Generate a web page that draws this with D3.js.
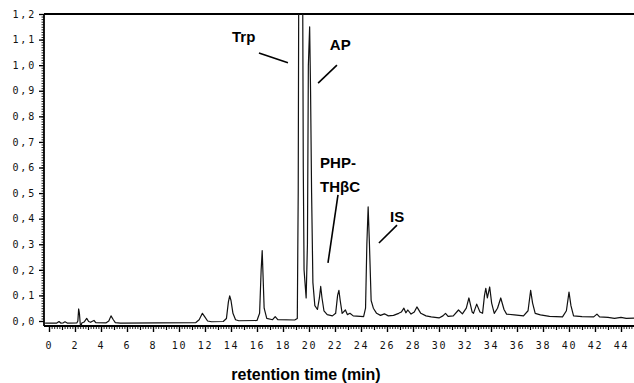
<!DOCTYPE html>
<html>
<head>
<meta charset="utf-8">
<script src="https://cdnjs.cloudflare.com/ajax/libs/d3/7.8.5/d3.min.js"></script>
<style>
body { margin: 0; background: #fff; }
.tick text { font-family: "DejaVu Sans Mono", monospace; font-size: 10px; letter-spacing: 1.8px; fill: #111; }
.lbl { font-family: "Liberation Sans", Arial, sans-serif; font-weight: bold; font-size: 15px; fill: #000; }
</style>
</head>
<body>
<svg width="634" height="383"></svg>
<script>
// absorbance ticks (AU) and retention time ticks (min)
var yTicks = [0, 0.1, 0.2, 0.3, 0.4, 0.5, 0.6, 0.7, 0.8, 0.9, 1.0, 1.1, 1.2];
var xTicks = [0, 2, 4, 6, 8, 10, 12, 14, 16, 18, 20, 22, 24, 26, 28, 30, 32, 34, 36, 38, 40, 42, 44];

// chromatogram trace: [time (min), absorbance]
var trace = [
  [-0.3, -0.008], [0.6, -0.008], [0.77, -0.002], [0.9, -0.008], [1.1, -0.007], [1.23, -0.003],
  [1.4, -0.008], [2.15, -0.007], [2.22, 0.0], [2.28, 0.047], [2.34, 0.03], [2.4, -0.01],
  [2.45, -0.023], [2.52, -0.008], [2.7, -0.004], [2.9, 0.01], [3.05, -0.002], [3.2, -0.005],
  [3.3, -0.002], [3.46, 0.002], [3.6, -0.006], [4.4, -0.007], [4.6, 0.0], [4.77, 0.02],
  [4.95, 0.005], [5.1, -0.006], [5.5, -0.008], [11.3, -0.006], [11.55, 0.005], [11.8, 0.03],
  [12.0, 0.015], [12.2, 0.0], [12.5, -0.003], [13.4, -0.002], [13.65, 0.01], [13.8, 0.075],
  [13.9, 0.098], [14.0, 0.08], [14.15, 0.03], [14.35, 0.005], [14.6, 0.001], [16.0, 0.002],
  [16.2, 0.03], [16.32, 0.2], [16.4, 0.275], [16.47, 0.17], [16.55, 0.05], [16.75, 0.01],
  [17.2, 0.005], [17.4, 0.017], [17.6, 0.005], [18.9, 0.004], [19.1, 0.01], [19.17, 0.5],
  [19.22, 1.5], [19.5, 1.5], [19.56, 0.6], [19.62, 0.2], [19.78, 0.09], [19.88, 0.3],
  [19.95, 1.0], [20.05, 1.15], [20.12, 0.9], [20.2, 0.5], [20.3, 0.15], [20.45, 0.06],
  [20.65, 0.045], [20.8, 0.09], [20.9, 0.135], [21.0, 0.09], [21.15, 0.04], [21.4, 0.025],
  [21.8, 0.02], [22.05, 0.03], [22.2, 0.1], [22.3, 0.12], [22.4, 0.08], [22.55, 0.03],
  [22.8, 0.043], [22.95, 0.025], [23.15, 0.03], [23.4, 0.02], [24.2, 0.017], [24.35, 0.05],
  [24.45, 0.3], [24.55, 0.446], [24.65, 0.3], [24.78, 0.08], [24.95, 0.05], [25.2, 0.03],
  [25.5, 0.022], [25.8, 0.028], [26.1, 0.02], [26.5, 0.022], [26.9, 0.03], [27.1, 0.035],
  [27.3, 0.05], [27.45, 0.032], [27.6, 0.043], [27.85, 0.027], [28.1, 0.035], [28.3, 0.055],
  [28.6, 0.03], [29.0, 0.02], [29.4, 0.016], [30.0, 0.012], [30.3, 0.02], [30.5, 0.03],
  [30.7, 0.018], [31.1, 0.02], [31.5, 0.043], [31.8, 0.028], [32.1, 0.05], [32.3, 0.09],
  [32.55, 0.035], [32.65, 0.03], [32.9, 0.066], [33.15, 0.035], [33.35, 0.03], [33.5, 0.1],
  [33.6, 0.128], [33.72, 0.09], [33.9, 0.133], [34.05, 0.07], [34.25, 0.03], [34.5, 0.05],
  [34.75, 0.09], [35.0, 0.045], [35.2, 0.027], [35.8, 0.024], [36.5, 0.02], [36.85, 0.04],
  [37.05, 0.12], [37.2, 0.07], [37.4, 0.03], [37.8, 0.024], [38.5, 0.018], [39.5, 0.016],
  [39.8, 0.04], [40.0, 0.113], [40.15, 0.06], [40.35, 0.02], [41.0, 0.017], [41.9, 0.016],
  [42.15, 0.027], [42.35, 0.016], [43.0, 0.014], [43.5, 0.01], [44.0, 0.014], [44.4, 0.01],
  [45.2, 0.012]
];

// peak annotations: text anchor and leader line, in time / absorbance units
var peakNames = [["Trp"], ["AP"], ["PHP-", "THβC"], ["IS"]];
var textAt = [[14.08, 1.09], [21.6, 1.059], [20.85, 0.598], [26.23, 0.387]];
var leaders = [
  [[16.15, 1.048], [18.38, 1.009]],
  [[22.15, 1.0], [20.7, 0.93]],
  [[22.23, 0.493], [21.46, 0.227]],
  [[26.77, 0.375], [25.38, 0.305]]
];

var svg = d3.select("svg"),
    width = +svg.attr("width"),
    height = +svg.attr("height");

var x = d3.scaleLinear().domain([0, 44]).range([49, 621]);
var y = d3.scaleLinear().domain([0, 1.2]).range([321, 14]);

var plotLeft = 44, plotTop = 14, plotBottom = 326;

svg.append("clipPath").attr("id", "plot")
  .append("rect").attr("x", plotLeft).attr("y", plotTop)
  .attr("width", width - plotLeft).attr("height", plotBottom - plotTop);

// y axis, minor then major ticks
svg.append("g").attr("transform", "translate(" + plotLeft + ",0)")
  .call(d3.axisLeft(y).tickValues(d3.range(0, 121).map(function(d) { return d / 100; }))
    .tickSize(2.5).tickFormat(""))
  .call(function(g) { g.select(".domain").remove(); })
  .selectAll("line").attr("stroke", "#222");

svg.append("g").attr("transform", "translate(" + plotLeft + ",0)")
  .call(d3.axisLeft(y).tickValues(yTicks).tickSize(5).tickPadding(3)
    .tickFormat(function(d) { return d.toFixed(1).replace(".", ","); }))
  .call(function(g) { g.select(".domain").remove(); })
  .selectAll("line").attr("stroke", "#000").attr("stroke-width", 1.3);

// x axis, minor then major ticks
svg.append("g").attr("transform", "translate(0," + plotBottom + ")")
  .call(d3.axisBottom(x).tickValues(d3.range(0, 226).map(function(d) { return d / 5; }))
    .tickSize(3).tickFormat(""))
  .call(function(g) { g.select(".domain").remove(); })
  .selectAll("line").attr("stroke", "#222");

svg.append("g").attr("transform", "translate(0," + plotBottom + ")")
  .call(d3.axisBottom(x).tickValues(d3.range(1, 45, 2)).tickSize(4).tickFormat(""))
  .call(function(g) { g.select(".domain").remove(); })
  .selectAll("line").attr("stroke", "#000").attr("stroke-width", 1.2);

svg.append("g").attr("transform", "translate(0," + plotBottom + ")")
  .call(d3.axisBottom(x).tickValues(xTicks).tickSize(6).tickPadding(10)
    .tickFormat(function(d) { return d; }))
  .call(function(g) { g.select(".domain").remove(); })
  .selectAll("line").attr("stroke", "#000").attr("stroke-width", 1.4);

// frame lines
svg.append("line").attr("x1", plotLeft).attr("x2", plotLeft).attr("y1", plotTop).attr("y2", plotBottom)
  .attr("stroke", "#000").attr("stroke-width", 1.8);
svg.append("line").attr("x1", plotLeft).attr("x2", width).attr("y1", plotBottom).attr("y2", plotBottom)
  .attr("stroke", "#000").attr("stroke-width", 1.8);
svg.append("line").attr("x1", plotLeft).attr("x2", width).attr("y1", plotTop).attr("y2", plotTop)
  .attr("stroke", "#000").attr("stroke-width", 2);

// the trace
var line = d3.line()
  .x(function(d) { return x(d[0]); })
  .y(function(d) { return y(d[1]); });

svg.append("path")
  .datum(trace)
  .attr("clip-path", "url(#plot)")
  .attr("fill", "none")
  .attr("stroke", "#111")
  .attr("stroke-width", 1.2)
  .attr("stroke-linejoin", "round")
  .attr("d", line);

// annotations
peakNames.forEach(function(names, i) {
  var t = svg.append("text").attr("class", "lbl")
    .attr("x", x(textAt[i][0])).attr("y", y(textAt[i][1]));
  names.forEach(function(n, j) {
    t.append("tspan").attr("x", x(textAt[i][0])).attr("dy", j ? 24 : 0).text(n);
  });
  svg.append("line")
    .attr("x1", x(leaders[i][0][0])).attr("y1", y(leaders[i][0][1]))
    .attr("x2", x(leaders[i][1][0])).attr("y2", y(leaders[i][1][1]))
    .attr("stroke", "#000").attr("stroke-width", 1.6);
});

svg.append("text").attr("class", "lbl")
  .attr("x", 306).attr("y", 380)
  .attr("text-anchor", "middle")
  .style("font-size", "16px")
  .text("retention time (min)");
</script>
</body>
</html>
